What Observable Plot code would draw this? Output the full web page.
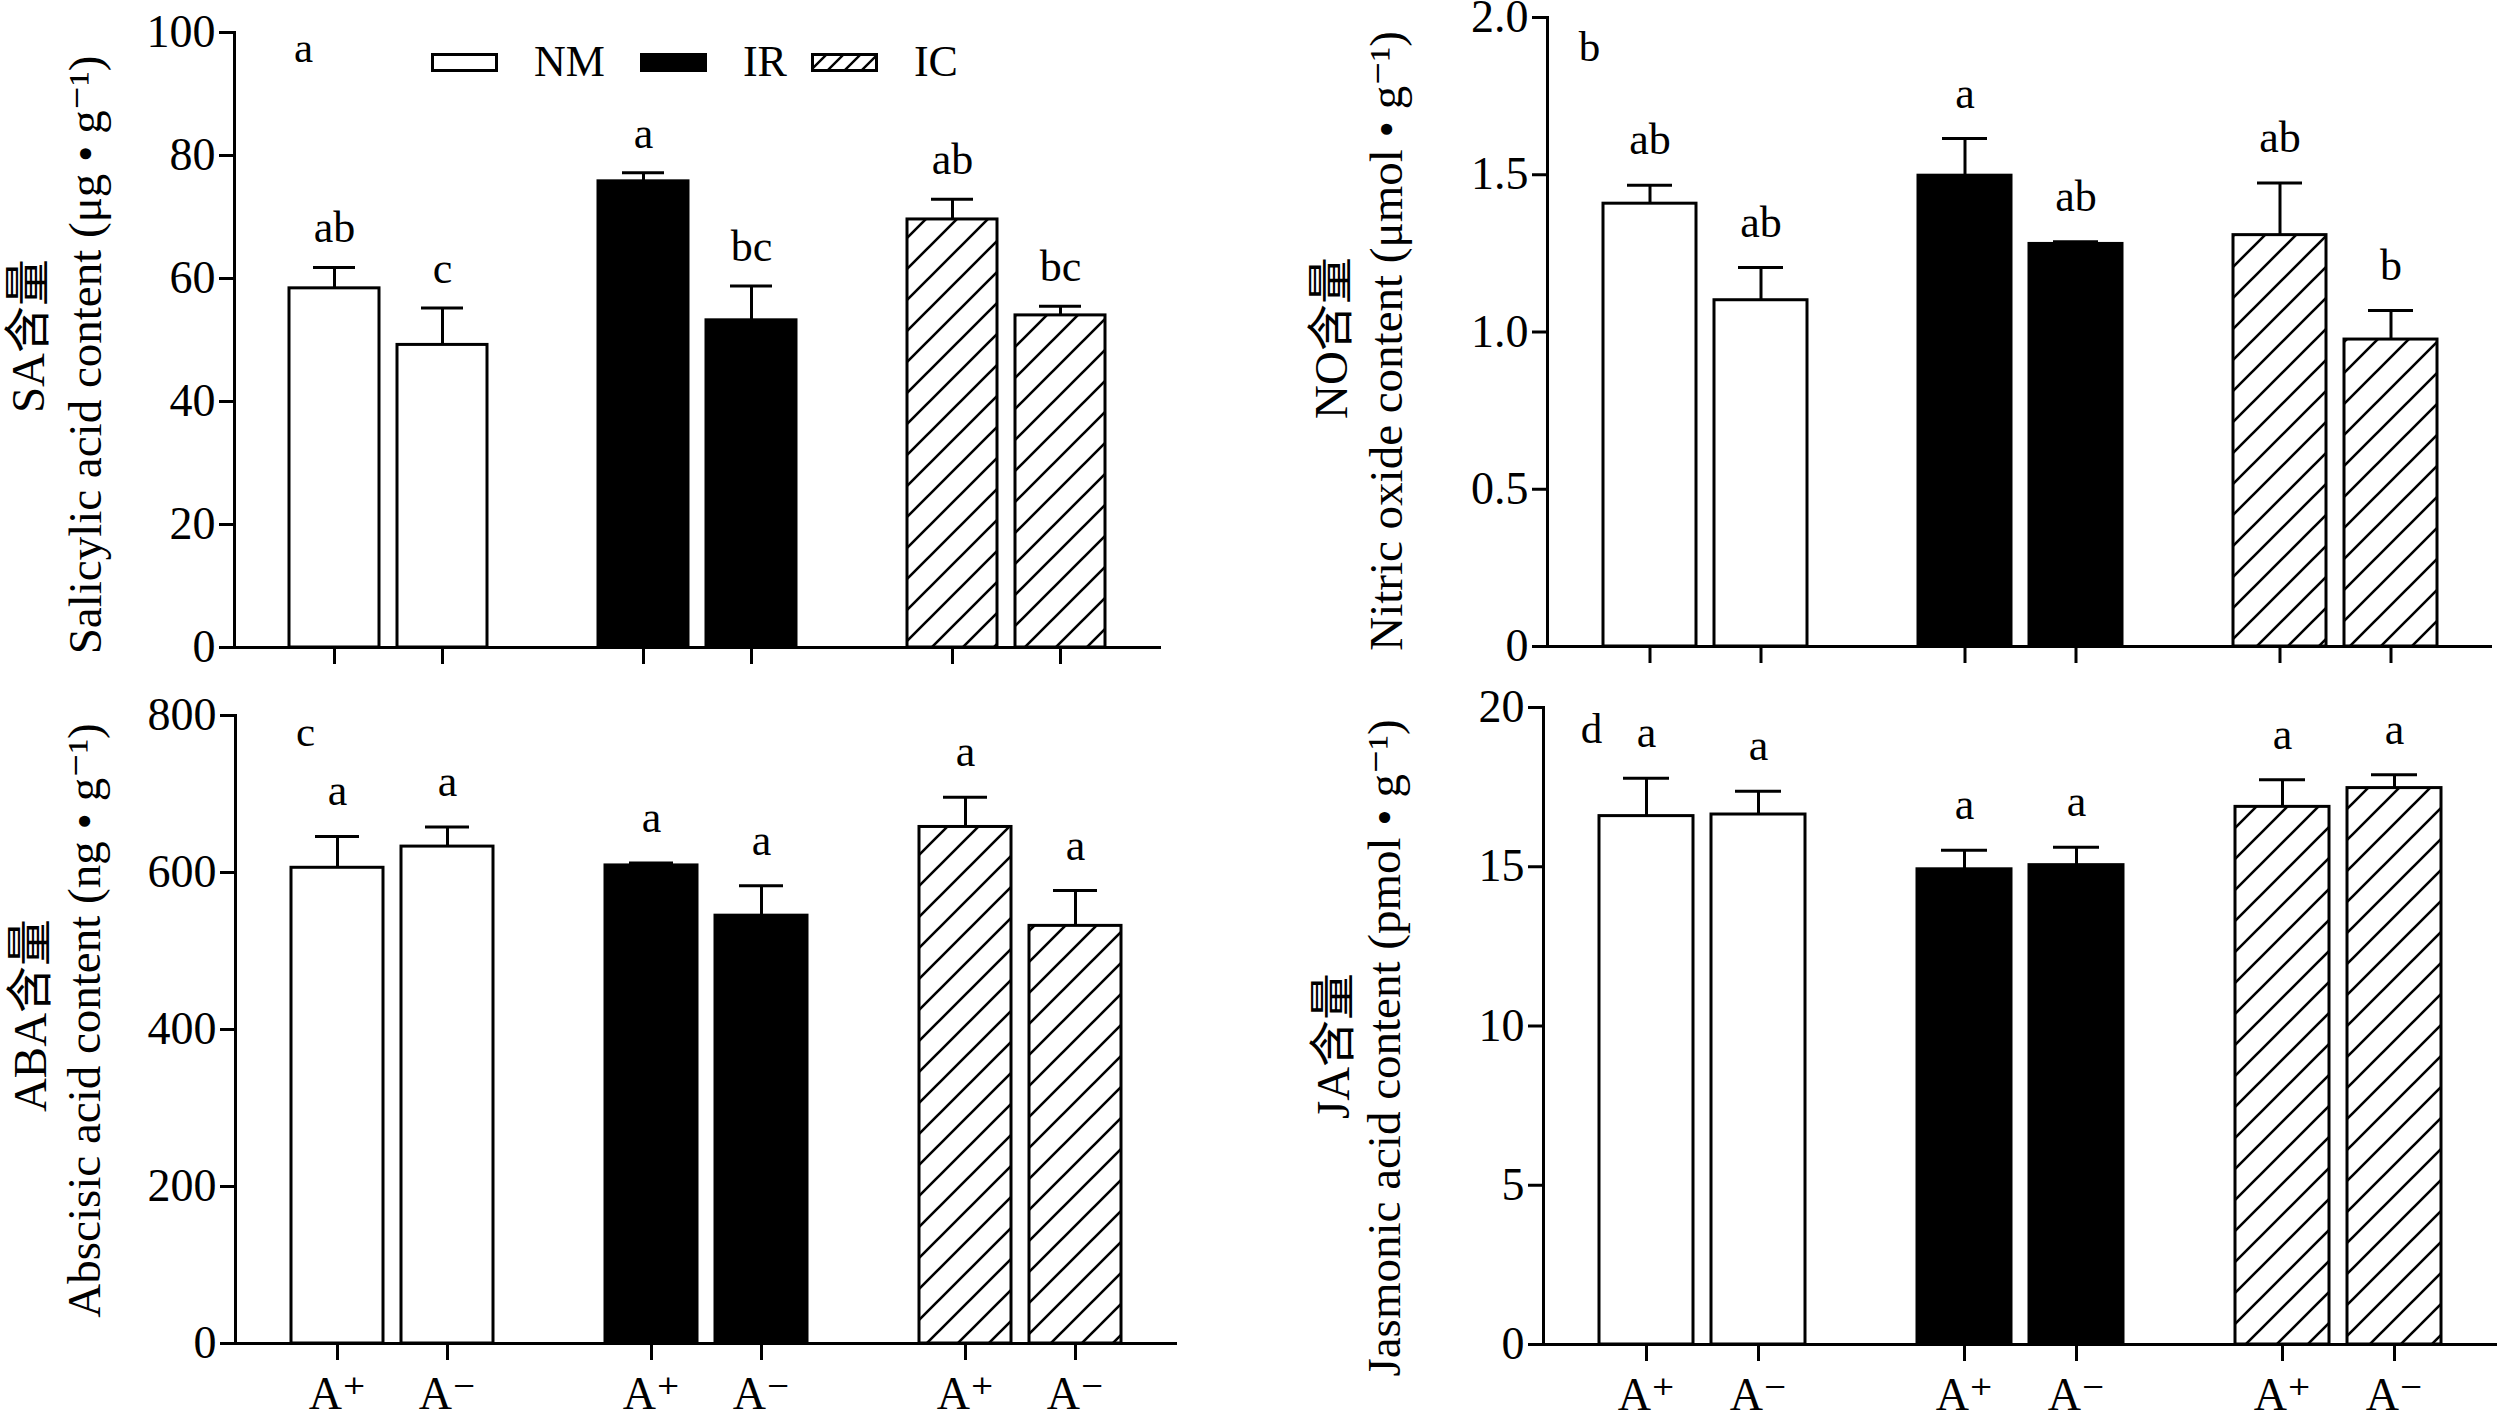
<!DOCTYPE html>
<html>
<head>
<meta charset="utf-8">
<script src="https://cdn.jsdelivr.net/npm/d3@7"></script>
<script src="https://cdn.jsdelivr.net/npm/@observablehq/plot@0.6"></script>
<style>
  html, body { margin: 0; padding: 0; background: #fff; }
  #chart { position: relative; width: 2500px; height: 1420px; overflow: hidden; background: #fff;
           font-family: "Liberation Serif", "DejaVu Serif", "Noto Sans CJK SC", serif; color: #000; }
  .panel { position: absolute; }
  .panel svg { max-width: none; display: block; }
  #legend { position: absolute; left: 431px; top: 40px; display: flex; align-items: center;
            font-size: 44px; line-height: 44px; color: #000; white-space: nowrap; }
  #legend .sw { display: block; }
</style>
</head>
<body>
<svg width="0" height="0" style="position:absolute">
  <defs>
    <pattern id="hatch" patternUnits="userSpaceOnUse" width="31" height="31">
      <rect width="31" height="31" fill="white"></rect>
      <path d="M-8,8L8,-8M0,31L31,0M23,39L39,23" stroke="black" stroke-width="2.6" fill="none"></path>
    </pattern>
    <pattern id="hatchSmall" patternUnits="userSpaceOnUse" width="17" height="17">
      <rect width="17" height="17" fill="white"></rect>
      <path d="M-5,5L5,-5M0,17L17,0M12,22L22,12" stroke="black" stroke-width="2.4" fill="none"></path>
    </pattern>
  </defs>
</svg>
<div id="chart"><div id="legend"></div></div>
<script>
// ---------- data ----------
const groups = ["NM", "IR", "IC"];
const treatments = ["A+", "A−"];
const treatmentLabels = ["A⁺", "A⁻"];
const groupFills = ["white", "black", "url(#hatch)"];
const legendFills = ["white", "black", "url(#hatchSmall)"];

// order: NM A+, NM A−, IR A+, IR A−, IC A+, IC A−
const saMean = [58.4, 49.2, 75.8, 53.2, 69.6, 54.0];
const saSE = [3.4, 6.0, 1.4, 5.6, 3.3, 1.5];
const saLetters = ["ab", "c", "a", "bc", "ab", "bc"];
const saTicks = [0, 20, 40, 60, 80, 100];

const noMean = [1.408, 1.101, 1.497, 1.280, 1.308, 0.976];
const noSE = [0.059, 0.104, 0.118, 0.007, 0.166, 0.092];
const noLetters = ["ab", "ab", "a", "ab", "ab", "b"];
const noTicks = [0, 0.5, 1.0, 1.5, 2.0];

const abaMean = [606, 633, 609, 545, 658, 532];
const abaSE = [40, 25, 3, 38, 38, 45];
const abaLetters = ["a", "a", "a", "a", "a", "a"];
const abaTicks = [0, 200, 400, 600, 800];

const jaMean = [16.59, 16.64, 14.92, 15.05, 16.88, 17.47];
const jaSE = [1.19, 0.73, 0.60, 0.56, 0.85, 0.42];
const jaLetters = ["a", "a", "a", "a", "a", "a"];
const jaTicks = [0, 5, 10, 15, 20];

const yLabels = {
  sa: ["SA含量", "Salicylic acid content (μg • g⁻¹)"],
  no: ["NO含量", "Nitric oxide content (μmol • g⁻¹)"],
  aba: ["ABA含量", "Abscisic acid content (ng • g⁻¹)"],
  ja: ["JA含量", "Jasmonic acid content (pmol • g⁻¹)"]
};

// ---------- layout ----------
const FONT = '"Liberation Serif", "DejaVu Serif", "Noto Sans CJK SC", serif';
const panels = [
  {id: "sa", letter: "a", mean: saMean, se: saSE, letters: saLetters, ticks: saTicks, domain: [0, 100], fmt: d => String(d),
   left: 0, top: 0, width: 1250, height: 690, mL: 234, mR: 89, mT: 32, mB: 43, showX: false,
   gap: 25, l1: [-206, -4], l2: [-149, 15], pl: [69, 16]},
  {id: "no", letter: "b", mean: noMean, se: noSE, letters: noLetters, ticks: noTicks, domain: [0, 2], fmt: d => d === 0 ? "0" : d.toFixed(1),
   left: 1250, top: 0, width: 1250, height: 690, mL: 297, mR: 8, mT: 17, mB: 44, showX: false,
   gap: 31, l1: [-216, 6], l2: [-161, 9], pl: [42, 30]},
  {id: "aba", letter: "c", mean: abaMean, se: abaSE, letters: abaLetters, ticks: abaTicks, domain: [0, 800], fmt: d => String(d),
   left: 0, top: 650, width: 1250, height: 770, mL: 235, mR: 73, mT: 65, mB: 77, showX: true,
   gap: 31, l1: [-205, -14], l2: [-151, -9], pl: [70, 17]},
  {id: "ja", letter: "d", mean: jaMean, se: jaSE, letters: jaLetters, ticks: jaTicks, domain: [0, 20], fmt: d => String(d),
   left: 1250, top: 650, width: 1250, height: 770, mL: 293, mR: 3, mT: 57, mB: 76, showX: true,
   gap: 31, l1: [-210, 20], l2: [-159, 22], pl: [48, 22]}
];

function buildPanel(p) {
  const rows = groups.flatMap((g, gi) => treatments.map((t, ti) => {
    const i = gi * treatments.length + ti;
    return {group: g, trt: t, mean: p.mean[i], top: p.mean[i] + p.se[i], letter: p.letters[i]};
  }));
  const [lab1, lab2] = yLabels[p.id];
  return Plot.plot({
    width: p.width, height: p.height,
    marginLeft: p.mL, marginRight: p.mR, marginTop: p.mT, marginBottom: p.mB,
    style: {background: "transparent", fontFamily: FONT, color: "black"},
    fx: {domain: groups, paddingInner: 0, paddingOuter: 0, axis: null, label: null},
    x: {domain: treatments, paddingInner: 0.164, paddingOuter: 0.5, label: null},
    y: {domain: p.domain, label: null},
    color: {type: "ordinal", domain: groups, range: groupFills},
    marks: [
      Plot.barY(rows, {fx: "group", x: "trt", y: "mean", fill: "group", stroke: "black", strokeWidth: 3}),
      Plot.ruleX(rows, {fx: "group", x: "trt", y1: "mean", y2: "top", stroke: "black", strokeWidth: 3}),
      Plot.tickY(rows, {fx: "group", x: "trt", y: "top", stroke: "black", strokeWidth: 3, insetLeft: 24, insetRight: 24}),
      Plot.text(rows, {fx: "group", x: "trt", y: "top", text: "letter", dy: -p.gap, lineAnchor: "bottom",
                       fontSize: 44, fill: "black"}),
      Plot.ruleY([0], {stroke: "black", strokeWidth: 3}),
      Plot.frame({anchor: "left", stroke: "black", strokeWidth: 3, facetAnchor: "left"}),
      Plot.axisY({ticks: p.ticks, tickFormat: p.fmt, tickSize: 15, tickPadding: 4, fontSize: 46,
                  strokeWidth: 3, label: null}),
      Plot.axisX({tickSize: 17, tickPadding: 16, fontSize: 46, strokeWidth: 3, label: null,
                  tickFormat: p.showX ? (d => treatmentLabels[treatments.indexOf(d)]) : (() => "")}),
      Plot.text([lab1], {text: d => d, frameAnchor: "left", rotate: -90, dx: p.l1[0], dy: p.l1[1],
                         fontSize: 47, lineAnchor: "middle", textAnchor: "middle", facetAnchor: "left"}),
      Plot.text([lab2], {text: d => d, frameAnchor: "left", rotate: -90, dx: p.l2[0], dy: p.l2[1],
                         fontSize: 47, lineAnchor: "middle", textAnchor: "middle", facetAnchor: "left"}),
      Plot.text([p.letter], {text: d => d, frameAnchor: "top-left", dx: p.pl[0], dy: p.pl[1],
                             fontSize: 43, lineAnchor: "middle", textAnchor: "middle", facetAnchor: "left"})
    ]
  });
}

const chart = document.getElementById("chart");
for (const p of panels) {
  const div = document.createElement("div");
  div.className = "panel";
  div.style.left = p.left + "px";
  div.style.top = p.top + "px";
  div.style.width = p.width + "px";
  div.style.height = p.height + "px";
  div.appendChild(buildPanel(p));
  chart.insertBefore(div, document.getElementById("legend"));
}

// ---------- legend ----------
const legend = document.getElementById("legend");
const textGaps = [35, 24, 0];
groups.forEach((g, i) => {
  const ns = "http://www.w3.org/2000/svg";
  const sw = document.createElementNS(ns, "svg");
  sw.setAttribute("width", 67); sw.setAttribute("height", 19);
  sw.setAttribute("class", "sw");
  const r = document.createElementNS(ns, "rect");
  r.setAttribute("x", 1.5); r.setAttribute("y", 1.5);
  r.setAttribute("width", 64); r.setAttribute("height", 16);
  r.setAttribute("fill", legendFills[i]); r.setAttribute("stroke", "black"); r.setAttribute("stroke-width", 3);
  sw.appendChild(r);
  legend.appendChild(sw);
  const t = document.createElement("span");
  t.textContent = g;
  t.style.marginLeft = "36px";
  t.style.marginRight = textGaps[i] + "px";
  legend.appendChild(t);
});
</script>
</body>
</html>
